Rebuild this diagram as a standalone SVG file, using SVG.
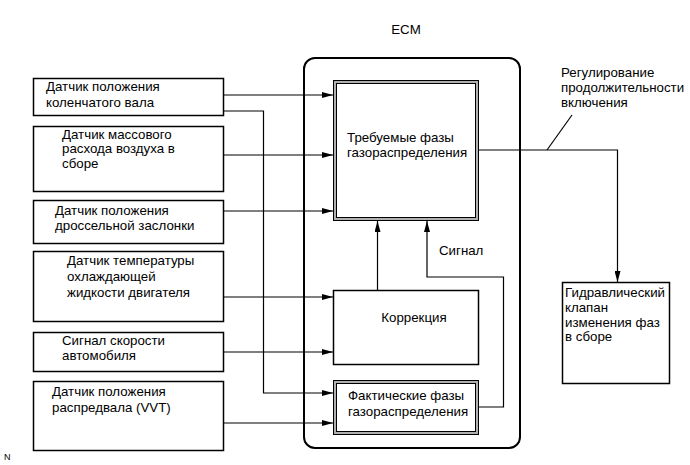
<svg xmlns="http://www.w3.org/2000/svg" width="690" height="465" viewBox="0 0 690 465">
<style>
text{font-family:"Liberation Sans",Arial,sans-serif;font-size:13.3px;fill:#000}
.box{fill:#fff;stroke:#000;stroke-width:1.5}
.ln{fill:none;stroke:#000;stroke-width:1.2}
.gray{fill:none;stroke:#b0b0b0;stroke-width:2}
.thin{fill:none;stroke:#000;stroke-width:1}
</style>
<defs>
<marker id="ah" viewBox="0 0 11 6" refX="11" refY="3" markerWidth="11" markerHeight="6" markerUnits="userSpaceOnUse" orient="auto">
<path d="M0,0 L11,3 L0,6 Z" fill="#000"/>
</marker>
</defs>
<rect width="690" height="465" fill="#fff"/>
<text x="406" y="34" text-anchor="middle">ECM</text>
<g id="ecm"><rect x="304" y="58" width="216" height="390" rx="11" ry="11" fill="none" stroke="#000" stroke-width="2"/></g>
<g id="n1"><rect class="box" x="33.5" y="78.5" width="190" height="37"/>
<text x="46" y="91">Датчик положения</text><text x="46" y="107">коленчатого вала</text></g>
<g id="n2"><rect class="box" x="33.5" y="126.5" width="190" height="65"/>
<text x="62" y="139">Датчик массового</text><text x="62" y="153">расхода воздуха в</text><text x="62" y="168">сборе</text></g>
<g id="n3"><rect class="box" x="33.5" y="200.5" width="190" height="43"/>
<text x="55" y="215">Датчик положения</text><text x="55" y="230">дроссельной заслонки</text></g>
<g id="n4"><rect class="box" x="33.5" y="251.5" width="190" height="70"/>
<text x="67" y="265">Датчик температуры</text><text x="67" y="281">охлаждающей</text><text x="67" y="297">жидкости двигателя</text></g>
<g id="n5"><rect class="box" x="33.5" y="332.5" width="190" height="39"/>
<text x="62" y="345">Сигнал скорости</text><text x="62" y="360">автомобиля</text></g>
<g id="n6"><rect class="box" x="33.5" y="381.5" width="190" height="69"/>
<text x="52" y="396">Датчик положения</text><text x="52" y="412">распредвала (VVT)</text></g>
<g id="target"><rect x="333.5" y="80.5" width="145" height="140" fill="#fff" stroke="#000" stroke-width="1"/>
<rect class="gray" x="335" y="82" width="142" height="137"/>
<rect class="thin" x="336.5" y="83.5" width="139" height="134"/>
<text x="347" y="142">Требуемые фазы</text><text x="347" y="157">газораспределения</text></g>
<g id="corr"><rect class="box" x="333.5" y="290.5" width="145" height="74"/>
<text x="414" y="322" text-anchor="middle">Коррекция</text></g>
<g id="actual"><rect x="333.5" y="380.5" width="145" height="54" fill="#fff" stroke="#000" stroke-width="1"/>
<rect class="gray" x="335" y="382" width="142" height="51"/>
<rect class="thin" x="336.5" y="383.5" width="139" height="48"/>
<text x="348" y="400">Фактические фазы</text><text x="348" y="416">газораспределения</text></g>
<g id="valve"><rect class="box" x="562.5" y="282.5" width="107" height="101"/>
<text x="565" y="297">Гидравлический</text><text x="565" y="312">клапан</text><text x="565" y="327">изменения фаз</text><text x="565" y="341">в сборе</text></g>
<g id="connectors">
<path class="ln" d="M224,95 H333" marker-end="url(#ah)"/>
<path class="ln" d="M224,111 H263.5 V393 H333" marker-end="url(#ah)"/>
<path class="ln" d="M224,155 H333" marker-end="url(#ah)"/>
<path class="ln" d="M224,211 H333" marker-end="url(#ah)"/>
<path class="ln" d="M224,297 H333" marker-end="url(#ah)"/>
<path class="ln" d="M224,352 H333" marker-end="url(#ah)"/>
<path class="ln" d="M224,423 H333" marker-end="url(#ah)"/>
<path class="ln" d="M377.5,290 V221" marker-end="url(#ah)"/>
<path class="ln" d="M479,407 H503.5 V277 H427 V221" marker-end="url(#ah)"/>
<path class="ln" d="M479,150 H617.5 V282" marker-end="url(#ah)"/>
<path class="ln" d="M572,115 L547,150"/>
</g>
<text x="439" y="255">Сигнал</text>
<text x="561" y="77">Регулирование</text>
<text x="561" y="92">продолжительности</text>
<text x="561" y="107">включения</text>
<text x="4" y="460" style="font-size:9px">N</text>
</svg>
